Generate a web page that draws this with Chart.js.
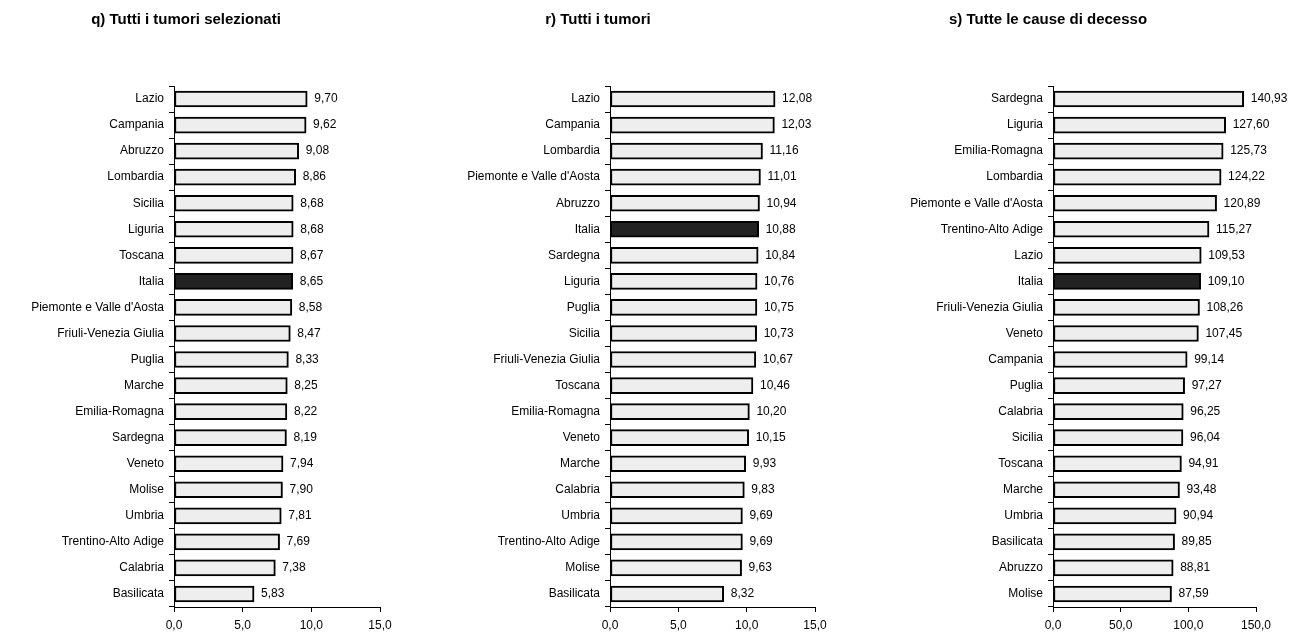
<!DOCTYPE html>
<html>
<head>
<meta charset="utf-8">
<script src="https://cdn.jsdelivr.net/npm/chart.js@4"></script>
<style>
  body { margin:0; background:#fff; width:1298px; height:637px; overflow:hidden; position:relative; }
  canvas { position:absolute; top:0; }
</style>
</head>
<body>
<canvas id="chartQ" width="430" height="637" style="left:0px"></canvas>
<canvas id="chartR" width="436" height="637" style="left:430px"></canvas>
<canvas id="chartS" width="432" height="637" style="left:866px"></canvas>
<script>
// q) Tutti i tumori selezionati
const regioniQ = ["Lazio","Campania","Abruzzo","Lombardia","Sicilia","Liguria","Toscana","Italia",
  "Piemonte e Valle d'Aosta","Friuli-Venezia Giulia","Puglia","Marche","Emilia-Romagna","Sardegna",
  "Veneto","Molise","Umbria","Trentino-Alto Adige","Calabria","Basilicata"];
const valoriQ = [9.70,9.62,9.08,8.86,8.68,8.68,8.67,8.65,8.58,8.47,8.33,8.25,8.22,8.19,7.94,7.90,7.81,7.69,7.38,5.83];

// r) Tutti i tumori
const regioniR = ["Lazio","Campania","Lombardia","Piemonte e Valle d'Aosta","Abruzzo","Italia","Sardegna",
  "Liguria","Puglia","Sicilia","Friuli-Venezia Giulia","Toscana","Emilia-Romagna","Veneto","Marche",
  "Calabria","Umbria","Trentino-Alto Adige","Molise","Basilicata"];
const valoriR = [12.08,12.03,11.16,11.01,10.94,10.88,10.84,10.76,10.75,10.73,10.67,10.46,10.20,10.15,9.93,9.83,9.69,9.69,9.63,8.32];

// s) Tutte le cause di decesso
const regioniS = ["Sardegna","Liguria","Emilia-Romagna","Lombardia","Piemonte e Valle d'Aosta","Trentino-Alto Adige",
  "Lazio","Italia","Friuli-Venezia Giulia","Veneto","Campania","Puglia","Calabria","Sicilia","Toscana",
  "Marche","Umbria","Basilicata","Abruzzo","Molise"];
const valoriS = [140.93,127.60,125.73,124.22,120.89,115.27,109.53,109.10,108.26,107.45,99.14,97.27,96.25,96.04,94.91,93.48,90.94,89.85,88.81,87.59];

const ticksTumori = [0,5,10,15];
const ticksCause = [0,50,100,150];

const titoli = ["q) Tutti i tumori selezionati","r) Tutti i tumori","s) Tutte le cause di decesso"];

const FONT = "'Liberation Sans', Arial, sans-serif";
const virgola = (v,d) => v.toFixed(d).replace('.',',');

const etichettePlugin = {
  id: 'etichette',
  afterDatasetsDraw(chart){
    const ctx = chart.ctx;
    const meta = chart.getDatasetMeta(0);
    const dati = chart.data.datasets[0].data;
    ctx.save();
    ctx.font = "12px " + FONT;
    ctx.fillStyle = "#000";
    ctx.textAlign = "left";
    ctx.textBaseline = "middle";
    meta.data.forEach((bar,i)=>{
      ctx.fillText(virgola(dati[i],2), bar.x + 7, bar.y);
    });
    ctx.restore();
  },
  afterDraw(chart, args, opts){
    const ctx = chart.ctx;
    ctx.save();
    ctx.font = "bold 15px " + FONT;
    ctx.fillStyle = "#000";
    ctx.textAlign = "center";
    ctx.textBaseline = "middle";
    ctx.fillText(opts.testo, opts.x, 20);
    ctx.restore();
  }
};

function creaGrafico(id, regioni, valori, ticks, larghezzaY, paddingDx, titolo, xTitolo){
  const colori = regioni.map(r => r === "Italia" ? "#222222" : "#eeeeee");
  return new Chart(document.getElementById(id), {
    type: 'bar',
    data: {
      labels: regioni,
      datasets: [{
        data: valori,
        backgroundColor: colori,
        borderColor: "#000",
        borderWidth: 2,
        borderSkipped: false,
        barThickness: 16
      }]
    },
    options: {
      indexAxis: 'y',
      responsive: false,
      animation: false,
      layout: { padding: { top: 86, right: paddingDx, bottom: 0, left: 0 } },
      plugins: {
        legend: { display: false },
        tooltip: { enabled: false },
        etichette: { testo: titolo, x: xTitolo }
      },
      scales: {
        y: {
          afterFit(scale){ scale.width = larghezzaY; },
          grid: { drawOnChartArea: false, tickLength: 5, color: "#000", offset: true },
          border: { color: "#000", width: 1 },
          ticks: { color: "#000", padding: 5, font: { size: 12, family: FONT } }
        },
        x: {
          min: ticks[0],
          max: ticks[ticks.length-1],
          afterFit(scale){ scale.height = 30; },
          afterBuildTicks(scale){ scale.ticks = ticks.map(v => ({ value: v })); },
          grid: { drawOnChartArea: false, tickLength: 5, color: "#000" },
          border: { color: "#000", width: 1 },
          ticks: { color: "#000", padding: 6, font: { size: 12, family: FONT },
            callback: v => virgola(v,1) }
        }
      }
    },
    plugins: [etichettePlugin]
  });
}

creaGrafico("chartQ", regioniQ, valoriQ, ticksTumori, 174, 50, titoli[0], 186);
creaGrafico("chartR", regioniR, valoriR, ticksTumori, 180, 51, titoli[1], 168);
creaGrafico("chartS", regioniS, valoriS, ticksCause, 187, 42, titoli[2], 182);
</script>
</body>
</html>
